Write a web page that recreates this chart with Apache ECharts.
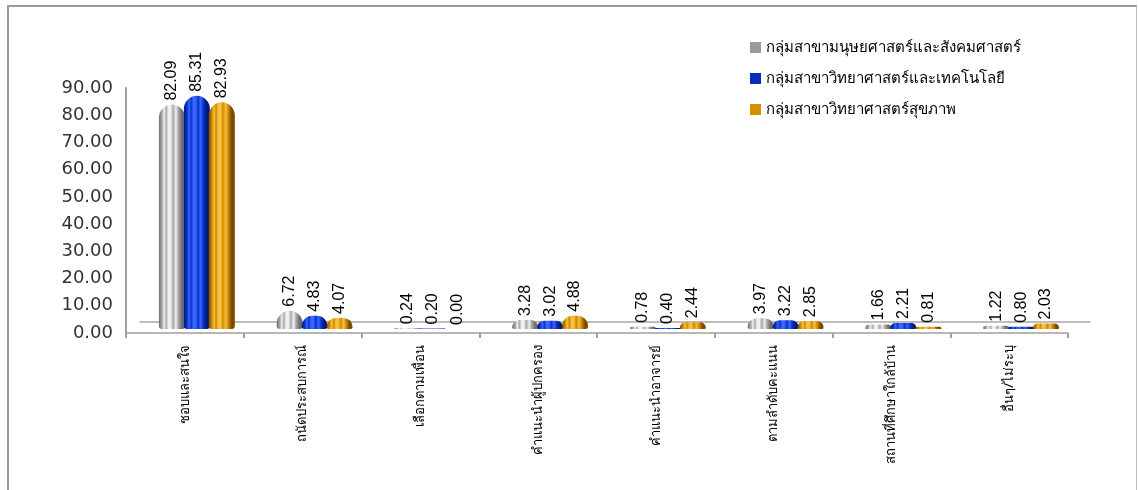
<!DOCTYPE html>
<html>
<head>
<meta charset="utf-8">
<script src="https://cdn.jsdelivr.net/npm/echarts@6/dist/echarts.min.js"></script>
<style>
html,body{margin:0;padding:0;background:#fff;}
#frame{position:absolute;left:7px;top:5px;width:1130px;height:490px;border-left:2px solid #999;border-top:2px solid #999;border-right:1px solid #bbb;box-sizing:border-box;}
#chart{position:absolute;left:0;top:0;width:1138px;height:490px;}
</style>
</head>
<body>
<div id="frame"></div>
<div id="chart"></div>
<script>
const categories = ['ชอบและสนใจ','ถนัดประสบการณ์','เลือกตามเพื่อน','คำแนะนำผู้ปกครอง','คำแนะนำอาจารย์','ตามลำดับคะแนน','สถานที่ศึกษาใกล้บ้าน','อื่นๆ/ไม่ระบุ'];
const seriesNames = ['กลุ่มสาขามนุษยศาสตร์และสังคมศาสตร์','กลุ่มสาขาวิทยาศาสตร์และเทคโนโลยี','กลุ่มสาขาวิทยาศาสตร์สุขภาพ'];
const humanities = [82.09, 6.72, 0.24, 3.28, 0.78, 3.97, 1.66, 1.22];
const sciTech = [85.31, 4.83, 0.20, 3.02, 0.40, 3.22, 2.21, 0.80];
const health = [82.93, 4.07, 0.00, 4.88, 2.44, 2.85, 0.81, 2.03];
const yTicks = {min: 0, max: 90, interval: 10};

function stripe(edge, mid, light) {
  return {
    type: 'linear', x: 0, y: 0, x2: 1, y2: 0,
    colorStops: [
      {offset: 0, color: edge},
      {offset: 0.12, color: mid},
      {offset: 0.2, color: light},
      {offset: 0.28, color: mid},
      {offset: 0.36, color: light},
      {offset: 0.45, color: light},
      {offset: 0.55, color: mid},
      {offset: 0.65, color: light},
      {offset: 0.75, color: mid},
      {offset: 0.88, color: edge},
      {offset: 1, color: edge}
    ]
  };
}
const fills = [
  stripe('#6e6e6e', '#a8a8a8', '#f0f0f0'),
  stripe('#001a7a', '#0a32c8', '#3a66ff'),
  stripe('#7a4a00', '#d08a00', '#f8c040')
];
const legendColors = ['#9a9a9a', '#0a2ab8', '#d89000'];
const dataSets = [humanities, sciTech, health];
const BAR_W = 26, BAR_GAP = -0.04;

const chart = echarts.init(document.getElementById('chart'), null, {renderer: 'canvas'});

const barSeries = dataSets.map((d, i) => ({
  name: seriesNames[i],
  type: 'bar',
  xAxisIndex: 1, yAxisIndex: 1,
  data: d,
  barWidth: BAR_W,
  barGap: (BAR_GAP * 100) + '%',
  itemStyle: {color: fills[i], borderRadius: [13, 13, 3, 3]},
  label: {
    show: true,
    position: 'top',
    rotate: 90,
    align: 'left',
    verticalAlign: 'middle',
    distance: 4,
    formatter: p => p.value.toFixed(2),
    fontSize: 16,
    color: '#000',
    fontFamily: '"Liberation Sans Narrow", "Liberation Sans", Arial, sans-serif'
  },
  z: 3
}));

chart.setOption({
  animation: false,
  backgroundColor: 'transparent',
  legend: {
    orient: 'vertical',
    left: 745,
    top: 35,
    itemGap: 16,
    itemWidth: 11,
    itemHeight: 11,
    icon: 'rect',
    textStyle: {fontSize: 15, color: '#000', fontFamily: 'Tahoma, "Noto Sans", sans-serif'},
    data: seriesNames.map((n, i) => ({name: n, itemStyle: {color: legendColors[i]}}))
  },
  grid: [
    {left: 126, right: 70, top: 88, bottom: 157},
    {left: 138, right: 58, top: 83, bottom: 161},
    {left: 140, right: 48, top: 80, bottom: 168}
  ],
  xAxis: [
    {
      type: 'category', gridIndex: 0,
      data: categories,
      axisLine: {lineStyle: {color: '#a0a0a0', width: 1.5}},
      axisTick: {show: true, length: 5, lineStyle: {color: '#a0a0a0', width: 2}},
      axisLabel: {rotate: 90, interval: 0, fontSize: 13, color: '#000', margin: 12, fontFamily: 'Tahoma, "Noto Sans", sans-serif'}
    },
    {type: 'category', gridIndex: 1, data: categories, show: false},
    {type: 'category', gridIndex: 2, data: categories,
      axisLine: {lineStyle: {color: '#a8a8a8', width: 1.5}}, axisTick: {show: false}, axisLabel: {show: false}}
  ],
  yAxis: [
    {
      type: 'value', gridIndex: 0,
      min: yTicks.min, max: yTicks.max, interval: yTicks.interval,
      axisLine: {show: true, lineStyle: {color: '#a0a0a0', width: 2}},
      axisTick: {show: false},
      splitLine: {show: false},
      axisLabel: {formatter: v => v.toFixed(2), fontSize: 18, color: '#333', margin: 13, fontFamily: '"DejaVu Sans", Verdana, sans-serif'}
    },
    {type: 'value', gridIndex: 1, min: yTicks.min, max: yTicks.max, interval: yTicks.interval, show: false, splitLine: {show: false}},
    {type: 'value', gridIndex: 2, min: yTicks.min, max: yTicks.max, interval: yTicks.interval, show: false, splitLine: {show: false}}
  ],
  series: barSeries
});
</script>
</body>
</html>
